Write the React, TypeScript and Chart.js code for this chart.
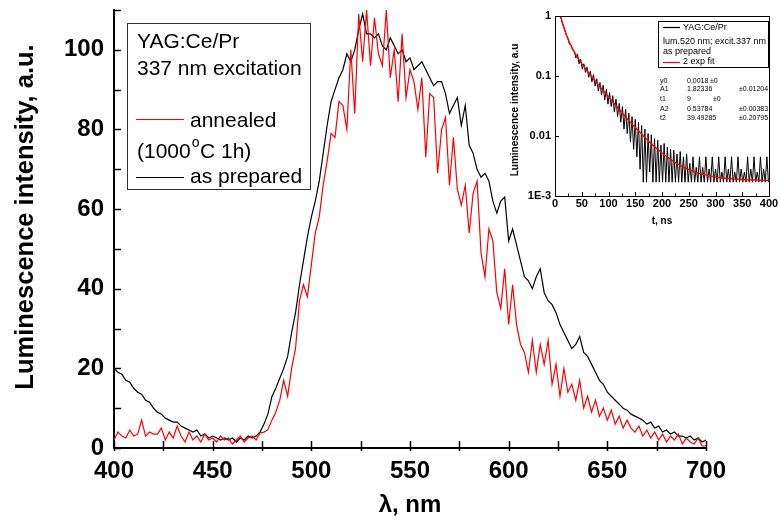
import React, { useEffect, useRef } from 'react';
import { Chart, registerables } from 'chart.js';

Chart.register(...registerables);

const FONT = "'Liberation Sans', Arial, Helvetica, sans-serif";

// ---------- main spectrum data (wavelength 400..700 nm, 2 nm step) ----------
const wavelengthStart = 400;
const wavelengthStep = 2;

const annealed = [
  2, 4, 3, 2.5, 4.5, 3, 3.5, 7, 3, 4,
  3.5, 3.5, 5, 2, 4, 2.5, 5.5, 3, 1.5, 4,
  2, 3, 1.5, 3.5, 2, 2.5, 1.5, 3, 2, 2.5,
  1, 2, 3, 1.5, 2.5, 3, 2, 3.8, 4, 4.6,
  7, 9, 12, 17, 13, 20, 25, 37, 41, 38,
  46, 54, 58, 66, 72, 79, 78, 87, 86, 80,
  100, 84, 109, 97, 110, 96, 108, 99, 96, 110,
  93, 100, 87, 104, 88, 95, 92, 85, 93, 73,
  89, 88, 69, 80, 83, 66, 78, 65, 61, 66,
  54, 64, 67, 49, 43, 55, 52, 39, 35, 45,
  31, 41, 31, 26, 24, 19, 27, 19, 26, 21,
  27, 16, 21, 13, 20, 14, 16, 12, 17, 10,
  13, 9, 12, 8, 10, 7, 9.5, 6, 8, 5,
  7, 5, 4, 5.5, 3, 4.5, 2.5, 4, 2, 3.5,
  1.5, 3, 2, 3.5, 1, 2.5, 1.5, 1, 2.5, 0.5,
  0.5,
];

const asPrepared = [
  20, 19, 18.5, 17, 16.5, 15, 14, 13.5, 12, 11.5,
  10, 9, 8.5, 7.5, 7, 6.5, 6.5, 5.5, 5, 4.5,
  4, 4.5, 3, 3.5, 2.5, 3, 2.5, 2, 2.5, 2,
  2.5, 1.5, 2.5, 2, 3, 2.5, 3, 4, 6, 8.5,
  12.9, 15, 17.5, 20, 23, 29, 34, 41, 47, 53,
  58, 62, 67, 74, 81, 87, 90, 93, 95, 99,
  97, 100, 105, 109, 104, 104, 103, 104, 101, 100,
  103, 101, 99, 100, 97, 98, 95, 96, 97, 95,
  93, 91, 92, 92, 89, 84, 86, 88, 81, 86,
  76, 74, 70, 68, 69, 67, 62, 59, 62, 63,
  52, 55, 51, 47, 43, 42, 40, 43, 45, 39,
  37, 36, 34, 31, 29, 27, 25, 26, 28, 24,
  23, 21, 19, 17, 16, 14, 13, 12, 11, 10,
  9.5, 8.5, 8, 7.5, 7, 6, 6.5, 5, 5.5, 4,
  4.5, 3.5, 4, 3, 3, 2.5, 3, 2, 2.5, 1.5,
  2,
];

const mainXTicks = [400, 450, 500, 550, 600, 650, 700];
const mainXMinorStep = 25;
const mainYTicks = [0, 20, 40, 60, 80, 100];
const mainYMinorStep = 10;
const mainXMin = 400;
const mainXMax = 700;
const mainYMin = 0;
const mainYMax = 110;

const mainYTitle = 'Luminescence intensity, a.u.';
const mainXTitle = 'λ, nm';
const legendLine1 = 'YAG:Ce/Pr';
const legendLine2 = '337 nm excitation';
const legendAnnealed = 'annealed';
const legendAnnealedCond = ['(1000', 'o', 'C 1h)'];
const legendPrepared = 'as prepared';

// ---------- inset decay data ----------
const decayStart = 9;
const decayStep = 3;
const decayMeasured = [
  1.05, 0.87, 0.70, 0.60, 0.48, 0.43, 0.34, 0.33, 0.27, 0.26,
  0.20, 0.23, 0.16, 0.19, 0.13, 0.16, 0.115, 0.14, 0.095, 0.12,
  0.08, 0.105, 0.068, 0.09, 0.056, 0.078, 0.048, 0.07, 0.04, 0.06,
  0.034, 0.053, 0.031, 0.047, 0.025, 0.041, 0.021, 0.035, 0.017, 0.031,
  0.013, 0.028, 0.011, 0.024, 0.008, 0.021, 0.006, 0.019, 0.0045, 0.017,
  0.0028, 0.015, 0.0017, 0.013, 0.0017, 0.011, 0.0025, 0.0105, 0.0017, 0.009,
  0.0017, 0.0085, 0.0017, 0.007, 0.0017, 0.0075, 0.0017, 0.0065, 0.0017, 0.006,
  0.0017, 0.0058, 0.0017, 0.005, 0.0017, 0.0055, 0.0017, 0.0045, 0.0017, 0.005,
  0.0017, 0.0035, 0.0017, 0.0045, 0.0017, 0.003, 0.0017, 0.0045, 0.0017, 0.003,
  0.0017, 0.0045, 0.0017, 0.0028, 0.0017, 0.0045, 0.0017, 0.0028, 0.0017, 0.0045,
  0.0017, 0.0025, 0.0017, 0.0045, 0.0017, 0.0028, 0.0017, 0.0045, 0.0017, 0.0025,
  0.0017, 0.0045, 0.0017, 0.0028, 0.0017, 0.0025, 0.0017, 0.0045, 0.0017, 0.0028,
  0.0017, 0.0045, 0.0017, 0.0025, 0.0017, 0.0045, 0.0017, 0.0028, 0.0017, 0.0045,
  0.0017,
];

const fitTimes = [10, 12, 15, 20, 25, 30, 40, 50, 60, 70, 80, 90, 100, 120, 140, 160, 180, 200, 225, 250, 275, 300, 350, 400];
const fitValues = [1.019, 0.879, 0.714, 0.524, 0.401, 0.319, 0.2185, 0.1605, 0.1218, 0.0939, 0.0729, 0.057, 0.0446, 0.0276, 0.0173, 0.0112, 0.0074, 0.0052, 0.0036, 0.00276, 0.00231, 0.00207, 0.00188, 0.00182];

const insetXTicks = [0, 50, 100, 150, 200, 250, 300, 350, 400];
const insetXMinorStep = 25;
const insetYTicks = [0.001, 0.01, 0.1, 1];
const insetYLabels = ['1E-3', '0.01', '0.1', '1'];
const insetYTitle = 'Luminescence intensity, a.u';
const insetXTitle = 't, ns';
const insetLegend = ['YAG:Ce/Pr', 'lum.520 nm; excit.337 nm', 'as prepared', '2 exp fit'];
const fitParamNames = ['y0', 'A1', 't1', 'A2', 't2'];
const fitParamValues = ['0.0018', '1.82336', '9', '0.53784', '39.49285'];
const fitParamErrors = ['±0', '±0.01204', '±0', '±0.00383', '±0.20795'];

const mainDeco = {
  id: 'mainDeco',
  afterDraw(chart: any) {
    const { ctx, chartArea: a, scales } = chart;
    const x = scales.x;
    const y = scales.y;
    ctx.save();
    ctx.strokeStyle = '#000';
    ctx.lineWidth = 1.5;
    for (let v = mainXMin; v <= mainXMax; v += mainXMinorStep) {
      const px = Math.round(x.getPixelForValue(v)) + 0.5;
      ctx.beginPath();
      ctx.moveTo(px, a.bottom - 7);
      ctx.lineTo(px, a.bottom + 3);
      ctx.stroke();
    }
    for (let v = mainYMin; v <= mainYMax; v += mainYMinorStep) {
      const py = Math.round(y.getPixelForValue(v)) + 0.5;
      ctx.beginPath();
      ctx.moveTo(a.left, py);
      ctx.lineTo(a.left + 7, py);
      ctx.stroke();
    }
    ctx.fillStyle = '#000';
    ctx.font = `bold 24px ${FONT}`;
    ctx.textAlign = 'center';
    ctx.textBaseline = 'alphabetic';
    ctx.fillText(mainXTitle, (a.left + a.right) / 2, 512);
    ctx.save();
    ctx.font = `bold 25.5px ${FONT}`;
    ctx.translate(33, (a.top + a.bottom) / 2 - 12);
    ctx.rotate(-Math.PI / 2);
    ctx.fillText(mainYTitle, 0, 0);
    ctx.restore();

    ctx.strokeStyle = '#333';
    ctx.lineWidth = 1;
    ctx.strokeRect(127.5, 23.5, 183, 166);
    ctx.textAlign = 'left';
    ctx.font = `21px ${FONT}`;
    ctx.fillText(legendLine1, 137, 48);
    ctx.fillText(legendLine2, 137, 75);
    ctx.strokeStyle = '#ff0000';
    ctx.lineWidth = 1.2;
    ctx.beginPath();
    ctx.moveTo(136, 119.5);
    ctx.lineTo(184, 119.5);
    ctx.stroke();
    ctx.fillText(legendAnnealed, 190, 127);
    let cx = 137;
    ctx.fillText(legendAnnealedCond[0], cx, 158);
    cx += ctx.measureText(legendAnnealedCond[0]).width + 1;
    ctx.font = `14px ${FONT}`;
    ctx.fillText(legendAnnealedCond[1], cx, 147);
    cx += ctx.measureText(legendAnnealedCond[1]).width + 0.5;
    ctx.font = `21px ${FONT}`;
    ctx.fillText(legendAnnealedCond[2], cx, 158);
    ctx.strokeStyle = '#000';
    ctx.beginPath();
    ctx.moveTo(136, 177.5);
    ctx.lineTo(184, 177.5);
    ctx.stroke();
    ctx.fillText(legendPrepared, 190, 183);
    ctx.restore();
  },
};

const insetDeco = {
  id: 'insetDeco',
  afterDraw(chart: any) {
    const { ctx, chartArea: a, scales } = chart;
    const x = scales.x;
    const y = scales.y;
    ctx.save();
    ctx.strokeStyle = '#000';
    ctx.lineWidth = 1;
    ctx.strokeRect(Math.round(a.left) + 0.5, Math.round(a.top) + 0.5, Math.round(a.width), Math.round(a.height));
    for (let v = insetXTicks[0]; v <= insetXTicks[insetXTicks.length - 1]; v += insetXMinorStep) {
      const px = Math.round(x.getPixelForValue(v)) + 0.5;
      const major = insetXTicks.includes(v);
      ctx.beginPath();
      ctx.moveTo(px, a.bottom);
      ctx.lineTo(px, a.bottom - (major ? 4 : 2.5));
      ctx.stroke();
    }
    for (const v of insetYTicks) {
      const py = Math.round(y.getPixelForValue(v)) + 0.5;
      ctx.beginPath();
      ctx.moveTo(a.left, py);
      ctx.lineTo(a.left + 4, py);
      ctx.stroke();
    }
    ctx.fillStyle = '#000';
    ctx.font = `bold 10px ${FONT}`;
    ctx.textAlign = 'center';
    ctx.textBaseline = 'middle';
    ctx.fillText(insetXTitle, (a.left + a.right) / 2, 221);
    ctx.save();
    ctx.translate(15, (a.top + a.bottom) / 2 + 4);
    ctx.rotate(-Math.PI / 2);
    ctx.fillText(insetYTitle, 0, 0);
    ctx.restore();

    ctx.strokeStyle = '#000';
    ctx.lineWidth = 1;
    ctx.strokeRect(158.5, 21.5, 110, 46);
    ctx.font = `9px ${FONT}`;
    ctx.textAlign = 'left';
    ctx.lineWidth = 1.2;
    ctx.beginPath();
    ctx.moveTo(163, 27.5);
    ctx.lineTo(180, 27.5);
    ctx.stroke();
    ctx.fillText(insetLegend[0], 183, 27.5);
    ctx.fillText(insetLegend[1], 163, 42);
    ctx.fillText(insetLegend[2], 163, 52);
    ctx.strokeStyle = '#ff0000';
    ctx.beginPath();
    ctx.moveTo(163, 62.5);
    ctx.lineTo(180, 62.5);
    ctx.stroke();
    ctx.fillText(insetLegend[3], 183, 62);

    ctx.font = `7px ${FONT}`;
    const rows = [81, 89.5, 99, 109, 118];
    fitParamNames.forEach((n, i) => {
      ctx.fillText(n, 160, rows[i]);
      ctx.fillText(fitParamValues[i], 187, rows[i]);
      const short = fitParamErrors[i] === '±0';
      const ex = short ? (i === 0 ? 210 : 213) : 239;
      ctx.fillText(fitParamErrors[i], ex, rows[i]);
    });
    ctx.restore();
  },
};

export default function App() {
  const mainRef = useRef<HTMLCanvasElement>(null);
  const insetRef = useRef<HTMLCanvasElement>(null);

  useEffect(() => {
    const annealedPts = annealed.map((v, i) => ({ x: wavelengthStart + i * wavelengthStep, y: v }));
    const preparedPts = asPrepared.map((v, i) => ({ x: wavelengthStart + i * wavelengthStep, y: v }));

    const main = new Chart(mainRef.current as HTMLCanvasElement, {
      type: 'line',
      data: {
        datasets: [
          { label: 'annealed', data: annealedPts, borderColor: '#ff0000', borderWidth: 1.2, pointRadius: 0, tension: 0, fill: false },
          { label: 'as prepared', data: preparedPts, borderColor: '#000000', borderWidth: 1.2, pointRadius: 0, tension: 0, fill: false },
        ],
      },
      options: {
        animation: false,
        responsive: false,
        events: [],
        layout: { padding: { top: 10, right: 74, left: 0, bottom: 0 } },
        plugins: { legend: { display: false }, tooltip: { enabled: false }, title: { display: false } },
        scales: {
          x: {
            type: 'linear',
            min: mainXMin,
            max: mainXMax,
            afterBuildTicks: (s: any) => { s.ticks = mainXTicks.map((v) => ({ value: v })); },
            ticks: { font: { family: FONT, size: 24, weight: 'bold' }, color: '#000', padding: 9, maxRotation: 0, autoSkip: false },
            grid: { display: false, drawTicks: false },
            border: { display: true, color: '#000', width: 2 },
            afterFit: (s: any) => { s.height = 78; s.paddingLeft = 0; s.paddingRight = 0; },
          },
          y: {
            type: 'linear',
            min: mainYMin,
            max: mainYMax,
            afterBuildTicks: (s: any) => { s.ticks = mainYTicks.map((v) => ({ value: v })); },
            ticks: { font: { family: FONT, size: 24, weight: 'bold' }, color: '#000', padding: 10, autoSkip: false },
            grid: { display: false, drawTicks: false },
            border: { display: true, color: '#000', width: 2 },
            afterFit: (s: any) => { s.width = 114; s.paddingTop = 0; s.paddingBottom = 0; },
          },
        },
      } as any,
      plugins: [mainDeco],
    });

    const decayPts = decayMeasured.map((v, i) => ({ x: decayStart + i * decayStep, y: v }));
    const fitPts = fitTimes.map((t, i) => ({ x: t, y: fitValues[i] }));

    const inset = new Chart(insetRef.current as HTMLCanvasElement, {
      type: 'line',
      data: {
        datasets: [
          { label: '2 exp fit', data: fitPts, borderColor: '#ff0000', borderWidth: 1.4, pointRadius: 0, cubicInterpolationMode: 'monotone', fill: false },
          { label: 'YAG:Ce/Pr', data: decayPts, borderColor: '#000000', borderWidth: 1, pointRadius: 0, tension: 0, fill: false },
        ],
      },
      options: {
        animation: false,
        responsive: false,
        events: [],
        layout: { padding: { top: 16, right: 11, left: 0, bottom: 0 } },
        plugins: { legend: { display: false }, tooltip: { enabled: false } },
        scales: {
          x: {
            type: 'linear',
            min: 0,
            max: 400,
            afterBuildTicks: (s: any) => { s.ticks = insetXTicks.map((v) => ({ value: v })); },
            ticks: { font: { family: FONT, size: 11, weight: 'bold' }, color: '#000', padding: 1, maxRotation: 0, autoSkip: false },
            grid: { display: false, drawTicks: false },
            border: { display: false },
            afterFit: (s: any) => { s.height = 39; s.paddingLeft = 0; s.paddingRight = 0; },
          },
          y: {
            type: 'logarithmic',
            min: 0.001,
            max: 1,
            afterBuildTicks: (s: any) => { s.ticks = insetYTicks.map((v) => ({ value: v })); },
            ticks: {
              font: { family: FONT, size: 11, weight: 'bold' },
              color: '#000',
              padding: 4,
              autoSkip: false,
              callback: (v: any) => {
                const idx = insetYTicks.indexOf(Number(v));
                return idx >= 0 ? insetYLabels[idx] : '';
              },
            },
            grid: { display: false, drawTicks: false },
            border: { display: false },
            afterFit: (s: any) => { s.width = 55; s.paddingTop = 0; s.paddingBottom = 0; },
          },
        },
      } as any,
      plugins: [insetDeco],
    });

    return () => {
      main.destroy();
      inset.destroy();
    };
  }, []);

  return (
    <div style={{ position: 'fixed', left: 0, top: 0, width: 780, height: 526, background: '#fff' }}>
      <canvas ref={mainRef} width={780} height={526} style={{ position: 'absolute', left: 0, top: 0, width: 780, height: 526 }} />
      <canvas ref={insetRef} width={280} height={235} style={{ position: 'absolute', left: 500, top: 0, width: 280, height: 235 }} />
    </div>
  );
}
